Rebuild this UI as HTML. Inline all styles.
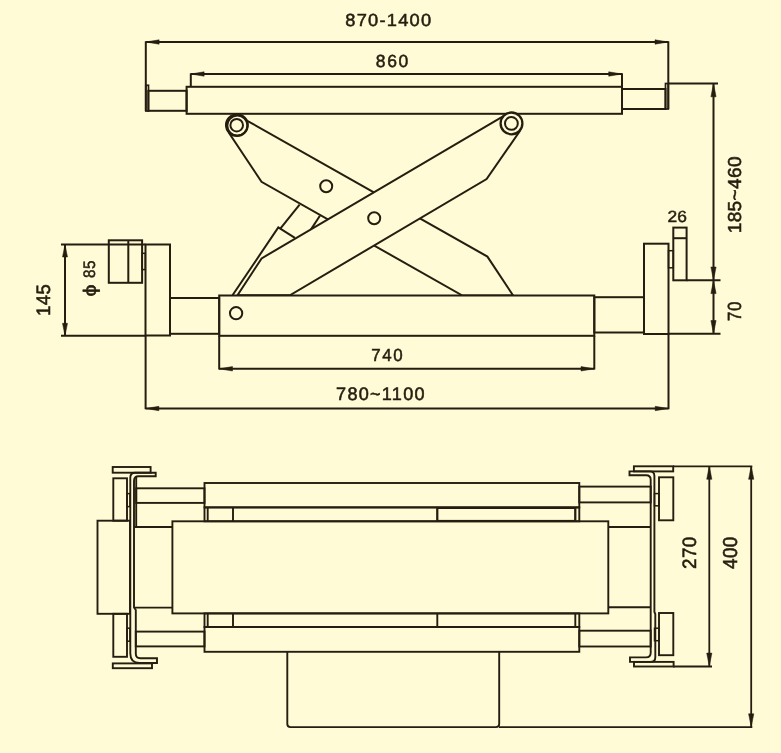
<!DOCTYPE html>
<html><head><meta charset="utf-8"><title>Scissor jack dimensions</title>
<style>
html,body{margin:0;padding:0;background:#FFFBD6;}
svg{display:block;will-change:transform;transform:translateZ(0)}
text{font-family:"Liberation Sans",Arial,Helvetica,sans-serif;fill:#261d10;stroke:#261d10;stroke-width:3.0;text-rendering:geometricPrecision}
</style></head><body>
<svg width="781" height="753" viewBox="0 0 781 753" stroke="#261d10" fill="none" stroke-linecap="butt" stroke-linejoin="miter">
<rect x="0" y="0" width="781" height="753" fill="#FFFBD6" stroke="none"/>
<line x1="145.8" y1="42" x2="668.3" y2="42" stroke-width="2.0"/>
<polygon points="145.80,42.00 159.10,39.80 159.10,44.20" fill="#261d10" stroke="#261d10" stroke-width="0.5"/>
<polygon points="668.30,42.00 655.00,39.80 655.00,44.20" fill="#261d10" stroke="#261d10" stroke-width="0.5"/>
<line x1="145.8" y1="41.3" x2="145.8" y2="111" stroke-width="2.0"/>
<line x1="668.3" y1="41.3" x2="668.3" y2="109" stroke-width="2.0"/>
<line x1="190.8" y1="74" x2="622" y2="74" stroke-width="2.0"/>
<polygon points="190.80,74.00 204.10,71.80 204.10,76.20" fill="#261d10" stroke="#261d10" stroke-width="0.5"/>
<polygon points="622.00,74.00 608.70,71.80 608.70,76.20" fill="#261d10" stroke="#261d10" stroke-width="0.5"/>
<line x1="190.8" y1="73.3" x2="190.8" y2="87" stroke-width="2.0"/>
<line x1="622" y1="73.3" x2="622" y2="87" stroke-width="2.0"/>
<text font-size="100" style="letter-spacing:6.71px" transform="translate(345.30,26.42) scale(0.1828,0.1761)">870-1400</text>
<text font-size="100" style="letter-spacing:9.28px" transform="translate(375.80,67.22) scale(0.1746,0.1761)">860</text>
<path d="M247.3,120.8 L487.4,256.6 L513.1,295.5 L462.4,295.5 L261.5,181.8 L229.4,133.6 Z" fill="#FFFBD6" stroke-width="2.0" />
<line x1="299.6" y1="204.6" x2="279.9" y2="229.1" stroke-width="2.0"/>
<line x1="319.9" y1="215.8" x2="310.7" y2="229.9" stroke-width="2.0"/>
<path d="M232.5,295.3 L278.3,227.4 L294.9,237.9" fill="none" stroke-width="2.0" />
<path d="M506,114.7 L261.6,258.4 L237.5,295.3 L289.9,295.3 L486.6,179.0 L519.5,131.6 Z" fill="#FFFBD6" stroke-width="2.0" />
<circle cx="326.2" cy="186.2" r="6.0" fill="#FFFBD6" stroke-width="2.0"/>
<circle cx="374.2" cy="218.3" r="6.0" fill="#FFFBD6" stroke-width="2.0"/>
<rect x="186.6" y="86.8" width="435.4" height="27.0" fill="#FFFBD6" stroke-width="2.0"/>
<rect x="148.3" y="90.8" width="38.3" height="20.0" fill="none" stroke-width="2.0"/>
<rect x="145.8" y="85.3" width="2.7" height="25.7" fill="none" stroke-width="1.7"/>
<rect x="622" y="89" width="43.5" height="20" fill="none" stroke-width="2.0"/>
<rect x="665.5" y="83.5" width="2.8" height="25.5" fill="none" stroke-width="1.7"/>
<line x1="668" y1="83.5" x2="718" y2="83.5" stroke-width="2.0"/>
<circle cx="236.9" cy="125.1" r="10.8" fill="#FFFBD6" stroke-width="2.3"/>
<circle cx="237.4" cy="125.6" r="10.0" fill="none" stroke-width="1.8"/>
<circle cx="236.7" cy="125.2" r="6.3" fill="#FFFBD6" stroke-width="2.0"/>
<circle cx="511.5" cy="123.4" r="10.9" fill="#FFFBD6" stroke-width="2.3"/>
<circle cx="511.4" cy="123.4" r="6.4" fill="#FFFBD6" stroke-width="2.0"/>
<rect x="219.2" y="295.5" width="375.1" height="40.3" fill="#FFFBD6" stroke-width="2.0"/>
<circle cx="236.1" cy="313.2" r="6.15" fill="#FFFBD6" stroke-width="2.0"/>
<rect x="170.0" y="298" width="49.2" height="35.8" fill="none" stroke-width="2.0"/>
<rect x="594.3" y="297.2" width="49.7" height="35.3" fill="none" stroke-width="2.0"/>
<rect x="145.5" y="244.5" width="24.5" height="91.0" fill="none" stroke-width="2.0"/>
<rect x="644" y="243.7" width="24.5" height="90.3" fill="none" stroke-width="2.0"/>
<rect x="108.8" y="240.3" width="33.3" height="42.5" fill="none" stroke-width="2.0"/>
<line x1="128.3" y1="240.3" x2="128.3" y2="282.8" stroke-width="2.0"/>
<rect x="142.1" y="253.3" width="3.2" height="16.3" fill="none" stroke-width="1.5"/>
<rect x="673.3" y="227.6" width="13.3" height="52.7" fill="none" stroke-width="2.0"/>
<line x1="673.3" y1="238.2" x2="686.6" y2="238.2" stroke-width="2.0"/>
<rect x="668.5" y="250.7" width="4.8" height="17.1" fill="none" stroke-width="1.5"/>
<text font-size="100" style="letter-spacing:0.00px" transform="translate(667.60,221.74) scale(0.1739,0.1634)">26</text>
<line x1="61" y1="244.5" x2="145.5" y2="244.5" stroke-width="2.0"/>
<line x1="61" y1="335.8" x2="145.5" y2="335.8" stroke-width="2.0"/>
<line x1="65" y1="244.5" x2="65" y2="335.8" stroke-width="2.0"/>
<polygon points="65.00,244.50 62.50,257.00 67.50,257.00" fill="#261d10" stroke="#261d10" stroke-width="0.5"/>
<polygon points="65.00,335.80 62.50,323.30 67.50,323.30" fill="#261d10" stroke="#261d10" stroke-width="0.5"/>
<text font-size="100" style="letter-spacing:2.58px" transform="translate(50.41,316.00) rotate(-90) scale(0.1847,0.1943)">145</text>
<text font-size="100" style="letter-spacing:3.43px" transform="translate(95.23,278.00) rotate(-90) scale(0.1538,0.1662)">85</text>
<text font-size="100" style="letter-spacing:0.00px" transform="translate(96.28,296.50) rotate(-90) scale(0.2143,0.1817)">ϕ</text>
<line x1="713.5" y1="83.5" x2="713.5" y2="333.8" stroke-width="2.0"/>
<polygon points="713.50,83.50 710.90,96.80 716.10,96.80" fill="#261d10" stroke="#261d10" stroke-width="0.5"/>
<polygon points="713.50,280.30 710.90,267.00 716.10,267.00" fill="#261d10" stroke="#261d10" stroke-width="0.5"/>
<polygon points="713.50,280.30 710.90,293.60 716.10,293.60" fill="#261d10" stroke="#261d10" stroke-width="0.5"/>
<polygon points="713.50,333.80 710.90,320.50 716.10,320.50" fill="#261d10" stroke="#261d10" stroke-width="0.5"/>
<line x1="686.6" y1="280.3" x2="720.5" y2="280.3" stroke-width="2.0"/>
<line x1="669" y1="333.8" x2="720.5" y2="333.8" stroke-width="2.0"/>
<text font-size="100" style="letter-spacing:2.02px" transform="translate(741.11,233.30) rotate(-90) scale(0.1900,0.1873)">185~460</text>
<text font-size="100" style="letter-spacing:3.43px" transform="translate(741.31,321.00) rotate(-90) scale(0.1704,0.1901)">70</text>
<line x1="219.2" y1="335.8" x2="219.2" y2="369.5" stroke-width="2.0"/>
<line x1="594.3" y1="335.8" x2="594.3" y2="369.5" stroke-width="2.0"/>
<line x1="219.2" y1="368.8" x2="594.3" y2="368.8" stroke-width="2.0"/>
<polygon points="219.20,368.80 232.50,366.60 232.50,371.00" fill="#261d10" stroke="#261d10" stroke-width="0.5"/>
<polygon points="594.30,368.80 581.00,366.60 581.00,371.00" fill="#261d10" stroke="#261d10" stroke-width="0.5"/>
<line x1="145.6" y1="335" x2="145.6" y2="409.2" stroke-width="2.0"/>
<line x1="668.5" y1="334" x2="668.5" y2="409.2" stroke-width="2.0"/>
<line x1="145.6" y1="408.5" x2="668.5" y2="408.5" stroke-width="2.0"/>
<polygon points="145.60,408.50 158.90,406.30 158.90,410.70" fill="#261d10" stroke="#261d10" stroke-width="0.5"/>
<polygon points="668.50,408.50 655.20,406.30 655.20,410.70" fill="#261d10" stroke="#261d10" stroke-width="0.5"/>
<text font-size="100" style="letter-spacing:9.28px" transform="translate(371.30,361.42) scale(0.1692,0.1761)">740</text>
<text font-size="100" style="letter-spacing:6.98px" transform="translate(336.10,399.72) scale(0.1808,0.1803)">780~1100</text>
<rect x="97.5" y="520.7" width="32.5" height="93.1" fill="none" stroke-width="1.9"/>
<rect x="112.7" y="467.0" width="37.9" height="5.7" fill="none" stroke-width="1.9"/>
<rect x="112.8" y="663.4" width="39.2" height="4.8" fill="none" stroke-width="1.9"/>
<path d="M155.7,472.7 H135 Q130.3,472.7 130.3,477.6 V653.5 Q130.3,663.0 139.5,663.0 H157.0 V658.3 H140.2 Q135.8,658.3 135.8,653.8 V610 L134,607.5 V481 Q134,476.3 138.6,476.3 H155.7 Z" fill="none" stroke-width="1.9" />
<line x1="136.2" y1="476.3" x2="136.2" y2="527" stroke-width="1.9"/>
<rect x="113.3" y="478.3" width="13.7" height="42.4" fill="none" stroke-width="1.9"/>
<rect x="113.3" y="613.8" width="13.7" height="43.0" fill="none" stroke-width="1.9"/>
<rect x="127" y="493.6" width="3" height="13.0" fill="none" stroke-width="1.5"/>
<rect x="127" y="628.2" width="3" height="13.0" fill="none" stroke-width="1.5"/>
<rect x="136.2" y="488.3" width="68.3" height="14.6" fill="none" stroke-width="1.9"/>
<rect x="135.8" y="631.6" width="68.7" height="14.8" fill="none" stroke-width="1.9"/>
<rect x="579.3" y="486.6" width="71.4" height="15.8" fill="none" stroke-width="1.9"/>
<rect x="579.3" y="630.7" width="71.4" height="15.8" fill="none" stroke-width="1.9"/>
<line x1="134" y1="527" x2="172.4" y2="527" stroke-width="1.9"/>
<line x1="134" y1="607.6" x2="172.4" y2="607.6" stroke-width="1.9"/>
<line x1="608.3" y1="527" x2="650.7" y2="527" stroke-width="1.9"/>
<line x1="608.3" y1="607.2" x2="650.7" y2="607.2" stroke-width="1.9"/>
<rect x="204.5" y="483" width="374.8" height="24.4" fill="none" stroke-width="1.9"/>
<rect x="204.5" y="507.4" width="374.8" height="13.9" fill="none" stroke-width="1.9"/>
<rect x="204.5" y="627" width="374.8" height="24.8" fill="none" stroke-width="1.9"/>
<rect x="204.5" y="613.4" width="374.8" height="13.6" fill="none" stroke-width="1.9"/>
<line x1="207.7" y1="507.4" x2="207.7" y2="521.3" stroke-width="1.9"/>
<line x1="207.7" y1="613.4" x2="207.7" y2="627" stroke-width="1.9"/>
<line x1="233" y1="507.4" x2="233" y2="521.3" stroke-width="1.9"/>
<line x1="233" y1="613.4" x2="233" y2="627" stroke-width="1.9"/>
<line x1="437.3" y1="507.4" x2="437.3" y2="521.3" stroke-width="1.9"/>
<line x1="437.3" y1="613.4" x2="437.3" y2="627" stroke-width="1.9"/>
<line x1="575.3" y1="507.4" x2="575.3" y2="521.3" stroke-width="1.9"/>
<line x1="575.3" y1="613.4" x2="575.3" y2="627" stroke-width="1.9"/>
<rect x="437.3" y="508.1" width="138.0" height="12.7" fill="none" stroke-width="1.8"/>
<rect x="172.4" y="521.3" width="435.9" height="92.1" fill="none" stroke-width="1.9"/>
<path d="M287.3,651.8 V724 Q287.3,727.1 290.5,727.1 H496 Q499.2,727.1 499.2,724 V651.8" fill="none" stroke-width="1.9" />
<path d="M629.5,471.4 V475.2 H646.2 Q650.7,475.2 650.7,479.8 V652.8 Q650.7,657.4 646,657.4 H630 V661.9 H650.6 Q655.3,661.9 655.3,657.2 V614 L654.4,612 V476 Q654.4,471.4 650,471.4 Z" fill="none" stroke-width="1.9" />
<rect x="633.9" y="466.3" width="39.3" height="5.1" fill="none" stroke-width="1.9"/>
<rect x="634" y="661.9" width="39.6" height="4.6" fill="none" stroke-width="1.9"/>
<rect x="659" y="477.3" width="14.3" height="43.0" fill="none" stroke-width="1.9"/>
<rect x="659" y="613" width="14.3" height="42.2" fill="none" stroke-width="1.9"/>
<rect x="654.5" y="493.6" width="4.5" height="12.2" fill="none" stroke-width="1.5"/>
<rect x="654.5" y="628.2" width="4.5" height="12.5" fill="none" stroke-width="1.5"/>
<line x1="673" y1="466.3" x2="752.3" y2="466.3" stroke-width="1.8"/>
<line x1="673" y1="666.5" x2="712" y2="666.5" stroke-width="1.8"/>
<line x1="499" y1="727.1" x2="752.3" y2="727.1" stroke-width="1.8"/>
<line x1="709.3" y1="466" x2="709.3" y2="666.4" stroke-width="1.8"/>
<polygon points="709.30,466.00 706.70,479.30 711.90,479.30" fill="#261d10" stroke="#261d10" stroke-width="0.5"/>
<polygon points="709.30,666.40 706.70,653.10 711.90,653.10" fill="#261d10" stroke="#261d10" stroke-width="0.5"/>
<line x1="751.2" y1="466" x2="751.2" y2="727.1" stroke-width="1.8"/>
<polygon points="751.20,466.00 748.60,479.30 753.80,479.30" fill="#261d10" stroke="#261d10" stroke-width="0.5"/>
<polygon points="751.20,727.10 748.60,713.80 753.80,713.80" fill="#261d10" stroke="#261d10" stroke-width="0.5"/>
<text font-size="100" style="letter-spacing:2.58px" transform="translate(695.81,569.10) rotate(-90) scale(0.1888,0.1930)">270</text>
<text font-size="100" style="letter-spacing:2.58px" transform="translate(737.00,569.10) rotate(-90) scale(0.1888,0.2014)">400</text>
</svg>
</body></html>
